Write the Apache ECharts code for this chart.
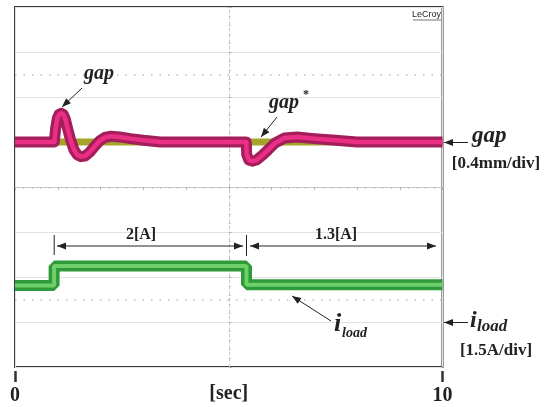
<!DOCTYPE html>
<html><head><meta charset="utf-8">
<script src="https://cdn.jsdelivr.net/npm/echarts@6/dist/echarts.min.js"></script>
<style>html,body{margin:0;padding:0;background:#fff}#c{width:548px;height:407px}</style>
</head><body><div id="c"></div>
<script>
// ---- data ----
const xTickValues = [0, 10];
const xTickLabels = ['0', '10'];
const gapTime = [0, 0.92, 0.95, 0.99, 1.03, 1.08, 1.13, 1.18, 1.23, 1.3, 1.38, 1.46, 1.54, 1.64, 1.75, 1.86, 1.98, 2.1, 2.25, 2.45, 2.7, 3.0, 3.4, 5.41, 5.42, 5.47, 5.55, 5.65, 5.78, 5.92, 6.08, 6.3, 6.6, 7.0, 7.5, 8.0, 10];
const gapMm   = [0, 0, 0.12, 0.21, 0.245, 0.255, 0.245, 0.2, 0.12, 0.02, -0.07, -0.115, -0.13, -0.125, -0.09, -0.04, 0.01, 0.04, 0.052, 0.045, 0.03, 0.015, 0, 0, -0.11, -0.16, -0.17, -0.16, -0.12, -0.07, -0.01, 0.035, 0.045, 0.03, 0.015, 0, 0];
const refTime = [0, 10];
const refMm = [0, 0];
const currentTime = [0, 0.915, 0.915, 5.415, 5.415, 10];
const currentA = [1.22, 1.22, 1.87, 1.87, 1.24, 1.24];
const dottedGapLevels = [0.6, -1.4];

const zip = (a, b) => a.map((v, i) => [v, b[i]]);
const SERIF = '"Liberation Serif", "Times New Roman", serif';
const GRID = '#e2e2e2';

function arrowEls(x1, y1, x2, y2, both) {
  const els = [];
  els.push({type: 'line', shape: {x1, y1, x2, y2}, style: {stroke: '#222', lineWidth: 1}, z: 50});
  const head = (hx, hy, fx, fy) => {
    const dx = hx - fx, dy = hy - fy, L = Math.hypot(dx, dy);
    const ux = dx / L, uy = dy / L, len = 9, hw = 3.5;
    const bx = hx - ux * len, by = hy - uy * len;
    return {type: 'polygon', shape: {points: [[hx, hy], [bx - uy * hw, by + ux * hw], [bx + uy * hw, by - ux * hw]]}, style: {fill: '#222'}, z: 51};
  };
  els.push(head(x2, y2, x1, y1));
  if (both) els.push(head(x1, y1, x2, y2));
  return els;
}
function txt(text, x, y, font, align, extra) {
  return Object.assign({type: 'text', z: 60, style: {text, x, y, font, fill: '#222', align: align || 'center', verticalAlign: 'middle'}}, extra || {});
}

const graphics = [].concat(
  [txt('LeCroy', 441, 15, '9px "Liberation Sans", Arial, sans-serif', 'right'),
   {type: 'line', shape: {x1: 413, y1: 20, x2: 441, y2: 20}, style: {stroke: '#777', lineWidth: 1}, z: 60}],
  [txt('gap', 99, 74, 'italic bold 20px ' + SERIF)],
  arrowEls(82, 88, 62, 107),
  [txt('gap', 284, 103, 'italic bold 20px ' + SERIF), txt('*', 306, 95, 'bold 12px ' + SERIF)],
  arrowEls(277, 117, 261, 137),
  arrowEls(468, 142.5, 444, 142.5),
  [txt('gap', 472, 136, 'italic bold 23px ' + SERIF, 'left'),
   txt('[0.4mm/div]', 496, 164, 'bold 17px ' + SERIF)],
  arrowEls(468, 322.5, 444, 322.5),
  [txt('i', 470, 321, 'italic bold 24px ' + SERIF, 'left'),
   txt('load', 477, 327, 'italic bold 17px ' + SERIF, 'left'),
   txt('[1.5A/div]', 496, 350.5, 'bold 17px ' + SERIF)],
  arrowEls(331, 321, 292, 296),
  [txt('i', 334, 324, 'italic bold 26px ' + SERIF, 'left'),
   txt('load', 342, 333, 'italic bold 14px ' + SERIF, 'left')],
  [{type: 'line', shape: {x1: 54.2, y1: 235, x2: 54.2, y2: 255}, style: {stroke: '#222', lineWidth: 1}, z: 50},
   {type: 'line', shape: {x1: 246.5, y1: 235, x2: 246.5, y2: 256}, style: {stroke: '#222', lineWidth: 1}, z: 50}],
  arrowEls(57, 246, 243, 246, true),
  arrowEls(250, 246, 436, 246, true),
  [txt('2[A]', 141, 234.5, 'bold 16px ' + SERIF), txt('1.3[A]', 336, 234.5, 'bold 16px ' + SERIF)]
);

const chart = echarts.init(document.getElementById('c'), null, {renderer: 'canvas'});
chart.setOption({
  animation: false,
  backgroundColor: '#fff',
  grid: {left: 15, top: 7, width: 427.5, height: 360, show: true, borderColor: '#3a3a3a', borderWidth: 2, backgroundColor: 'transparent', containLabel: false, outerBoundsMode: 'none'},
  xAxis: [
    {type: 'value', min: 0, max: 10, interval: 1, position: 'bottom', offset: 4,
     axisLine: {show: false, onZero: false},
     axisTick: {show: true, customValues: xTickValues, length: 11, lineStyle: {color: '#333', width: 2.5}},
     axisLabel: {show: true, customValues: xTickValues, formatter: v => xTickLabels[xTickValues.indexOf(v)], fontFamily: SERIF, fontWeight: 'bold', fontSize: 20, color: '#222', margin: 15},
     splitLine: {show: true, lineStyle: {color: GRID, width: 1}},
     name: '[sec]', nameLocation: 'middle', nameGap: 13, nameMoveOverlap: false,
     nameTextStyle: {fontFamily: SERIF, fontWeight: 'bold', fontSize: 20, color: '#222'}},
    {type: 'value', min: -5, max: 5, interval: 1,
     axisLine: {show: true, onZero: true, onZeroAxisIndex: 2, lineStyle: {color: '#c6c6c6', width: 1}},
     axisTick: {show: true, inside: true, length: 3, lineStyle: {color: '#b5b5b5'}},
     minorTick: {show: true, splitNumber: 5, length: 2, lineStyle: {color: '#c0c0c0'}},
     axisLabel: {show: false}, splitLine: {show: false}}
  ],
  yAxis: [
    {type: 'value', min: -2.0, max: 1.2, interval: 0.4,
     axisLine: {show: false, onZero: false}, axisTick: {show: false}, axisLabel: {show: false},
     splitLine: {show: true, lineStyle: {color: GRID, width: 1}}},
    {type: 'value', min: -1.5, max: 10.5, interval: 1.5, show: false,
     axisLine: {onZero: false}, splitLine: {show: false}},
    {type: 'value', min: -4, max: 4, interval: 1, position: 'left',
     axisLine: {show: true, onZero: true, onZeroAxisIndex: 1, lineStyle: {color: '#c6c6c6', width: 1, type: [3, 3]}},
     axisTick: {show: true, inside: true, length: 3, lineStyle: {color: '#b5b5b5'}},
     minorTick: {show: true, splitNumber: 5, length: 2, lineStyle: {color: '#c0c0c0'}},
     axisLabel: {show: false}, splitLine: {show: false}}
  ],
  series: [
    {type: 'line', name: 'gap*', xAxisIndex: 0, yAxisIndex: 0, data: zip(refTime, refMm),
     symbol: 'none', lineStyle: {color: '#a5a52c', width: 7}, z: 2, silent: true,
     markLine: {silent: true, symbol: 'none', label: {show: false},
       lineStyle: {color: '#bdbdbd', width: 1.5, type: [1.5, 7]},
       data: dottedGapLevels.map(v => ({yAxis: v}))}},
    {type: 'line', name: 'gapOuter', xAxisIndex: 0, yAxisIndex: 0, data: zip(gapTime, gapMm),
     symbol: 'none', lineStyle: {color: '#a51e5c', width: 11, join: 'round'}, z: 3, silent: true},
    {type: 'line', name: 'gap', xAxisIndex: 0, yAxisIndex: 0, data: zip(gapTime, gapMm),
     symbol: 'none', lineStyle: {color: '#ec2f86', width: 4.5, join: 'round'}, z: 4, silent: true},
    {type: 'line', name: 'iloadOuter', xAxisIndex: 0, yAxisIndex: 1, data: zip(currentTime, currentA),
     symbol: 'none', lineStyle: {color: '#2f9a3a', width: 11}, z: 3, silent: true},
    {type: 'line', name: 'iload', xAxisIndex: 0, yAxisIndex: 1, data: zip(currentTime, currentA),
     symbol: 'none', lineStyle: {color: '#6fd06a', width: 4}, z: 4, silent: true}
  ],
  graphic: graphics
});
</script></body></html>
